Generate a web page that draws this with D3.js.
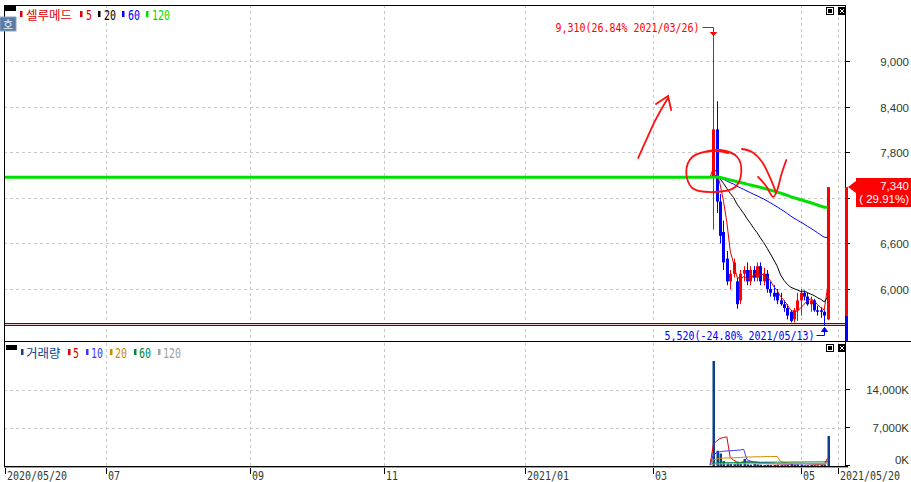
<!DOCTYPE html>
<html><head><meta charset="utf-8">
<script src="https://cdn.jsdelivr.net/npm/d3@7"></script>
<style>body{margin:0;background:#fff}svg{display:block}</style>
</head><body>
<svg id="c" width="911" height="482"></svg>
<script>
// ---------------- data ----------------
const stockName = "셀루메드";
const periodStart = "2020-05-20", periodEnd = "2021-05-20";
const marketHolidays = ["2020-08-17","2020-09-30","2020-10-01","2020-10-02","2020-10-09","2020-12-25","2020-12-31",
  "2021-01-01","2021-02-11","2021-02-12","2021-03-01","2021-05-05","2021-05-19"];
const haltedClose = 7470;           // price held flat while trading was suspended
const prevClose = 5650;
const candleDates = ["2021-03-26","2021-03-29","2021-03-30","2021-03-31","2021-04-01","2021-04-02","2021-04-05","2021-04-06",
  "2021-04-07","2021-04-08","2021-04-09","2021-04-12","2021-04-13","2021-04-14","2021-04-15","2021-04-16","2021-04-19",
  "2021-04-20","2021-04-21","2021-04-22","2021-04-23","2021-04-26","2021-04-27","2021-04-28","2021-04-29","2021-04-30",
  "2021-05-03","2021-05-04","2021-05-06","2021-05-07","2021-05-10","2021-05-11","2021-05-12","2021-05-13","2021-05-14"];
const opens  = [7500,8100,7150,6750,6400,6100,6200,6100,5850,6200,6250,6100,6250,6150,6300,6100,6200,6000,5950,5950,5850,5800,5750,5700,5600,5720,5850,5950,5900,5800,5850,5720,5720,5700,5600];
const highs  = [9310,8470,7250,6900,6500,6250,6400,6150,6250,6300,6350,6300,6300,6350,6350,6280,6250,6100,6050,6000,5950,5850,5800,5720,5750,5950,6000,5980,5950,5900,5870,5780,5760,5720,7340];
const lows   = [6780,7000,6600,6250,6050,6000,6150,5740,5800,6100,6050,6050,6100,6100,6050,6050,5950,5900,5850,5800,5780,5700,5600,5560,5560,5580,5650,5850,5780,5700,5700,5650,5620,5520,5590];
const closes = [8100,7150,6700,6350,6100,6200,6350,5800,6200,6250,6100,6250,6150,6300,6100,6200,6000,5950,5900,5850,5800,5750,5650,5580,5720,5850,5950,5900,5800,5850,5720,5700,5700,5650,7340];
const volumes = [19340,2800,2300,900,500,400,350,600,450,1300,300,250,400,300,250,200,250,200,180,200,180,150,200,350,250,300,250,150,150,180,150,150,180,300,5530]; // K shares
const priceTicks = [6000,6600,7200,7800,8400,9000];
const volumeTicks = [0,7000,14000];
const tickKeys   = ["2020-05-20","2020-07","2020-09","2020-11","2021-01","2021-03","2021-05","2021-05-20"];
const tickLabels = ["2020/05/20","07","09","11","2021/01","03","05","2021/05/20"];
const maPeriods = [5,20,60,120];
const maColors  = ["#e00000","#000000","#0000ff","#00e000"];
const volMaPeriods = [5,10,20,60,120];
const volMaColors  = ["#e00000","#3a3aff","#d08a00","#008a3a","#a0a0a0"];
const lowLinePrice = 5545;
const highNote = {date:"2021-03-26", price:9310, text:"9,310(26.84% 2021/03/26)"};
const lowNote  = {date:"2021-05-13", price:5520, text:"5,520(-24.80% 2021/05/13)"};
const lastNote = {price:7340, pct:"( 29.91%)", text:"7,340"};
// hand-drawn marker strokes: [trading days from 2021-03-26, price]
const scribbleArrow = [[-22.4,7724],[-20,7961],[-17.4,8211],[-15.3,8382],[-13.5,8513]];
const scribbleArrowHead = [[-17.1,8434],[-13.5,8539],[-12.6,8355]];
const scribbleCircle = [[-4,7789],[2,7829],[7.1,7737],[8.3,7539],[6.5,7342],[0.2,7276],[-6.3,7329],[-8.1,7539],[-6.3,7737],[-0.4,7816],[4.4,7789]];
const scribbleV1 = [[8.5,7842],[11.5,7803],[14.5,7671],[16.9,7461],[18.7,7263]];
const scribbleV2 = [[13.3,7474],[15.7,7355],[17.8,7211],[19.0,7303],[20.2,7500],[21.7,7697]];

// ---------------- calendar ----------------
const parse = d3.utcParse("%Y-%m-%d"), fmt = d3.utcFormat("%Y-%m-%d");
const hol = new Set(marketHolidays);
const days = d3.utcDay.range(parse(periodStart), d3.utcDay.offset(parse(periodEnd),1))
  .filter(d => d.getUTCDay()!==0 && d.getUTCDay()!==6 && !hol.has(fmt(d)));
const dayKeys = days.map(fmt);
const dayIndex = new Map(dayKeys.map((k,i)=>[k,i]));
const startIdx = dayIndex.get(candleDates[0]);
const lastIdx = dayIndex.get(candleDates[candleDates.length-1]);

// ---------------- layout ----------------
const svg = d3.select("#c");
const L = 4, R = 845, pTop = 5, pBot = 341, vBot = 466, AX = 909;
const x = d3.scaleLinear().domain([0, days.length]).range([5, 841]);
const y = d3.scaleLinear().domain([6000, 9000]).range([289, 61]);
const yv = d3.scaleLinear().domain([0, 14000]).range([466, 390]);
const MONO = "DejaVu Sans Mono", KR = "Noto Sans CJK KR", SANS = "Liberation Sans";
function mono(sel, str, size){ return sel.text(str).attr("font-family",MONO).attr("font-size",size||12)
  .attr("textLength", str.length*6).attr("lengthAdjust","spacingAndGlyphs"); }
function axisText(sel, str){ return sel.text(str).attr("font-family",SANS).attr("font-size",11.5).attr("text-anchor","end"); }

svg.append("rect").attr("width",911).attr("height",482).attr("fill","#fff");
const defs = svg.append("defs");
defs.append("clipPath").attr("id","cp").append("rect").attr("x",L).attr("y",pTop).attr("width",R-L).attr("height",pBot-pTop);
defs.append("clipPath").attr("id","cv").append("rect").attr("x",L).attr("y",342).attr("width",R-L).attr("height",vBot-342);

const tickIdx = tickKeys.map(k => k.length===10 ? dayIndex.get(k) : dayKeys.findIndex(d => d.startsWith(k)));

// grid
const grid = svg.append("g").attr("stroke","#c8c8c8").attr("stroke-dasharray","3,3").attr("stroke-width",1);
priceTicks.forEach(p => grid.append("line").attr("x1",L).attr("x2",R).attr("y1",Math.round(y(p))+0.5).attr("y2",Math.round(y(p))+0.5));
volumeTicks.filter(v=>v>0).forEach(v => grid.append("line").attr("x1",L).attr("x2",R).attr("y1",Math.round(yv(v))+0.5).attr("y2",Math.round(yv(v))+0.5));
tickIdx.slice(1).forEach(i => {
  const xx = Math.round(x(i))+0.5;
  grid.append("line").attr("x1",xx).attr("x2",xx).attr("y1",pTop).attr("y2",pBot);
  grid.append("line").attr("x1",xx).attr("x2",xx).attr("y1",343).attr("y2",vBot);
});

// ---------------- price panel ----------------
const gp = svg.append("g").attr("clip-path","url(#cp)");
const yl = Math.round(y(lowLinePrice));
gp.append("line").attr("x1",L).attr("x2",R).attr("y1",yl-0.5).attr("y2",yl-0.5).attr("stroke","#7a0000");
gp.append("line").attr("x1",L).attr("x2",R).attr("y1",yl+0.5).attr("y2",yl+0.5).attr("stroke","#e8c8c8");
gp.append("line").attr("x1",L).attr("x2",R).attr("y1",yl+1.5).attr("y2",yl+1.5).attr("stroke","#7a0000");

candleDates.forEach((d,i) => {
  const cx = Math.round(x(dayIndex.get(d)));
  const up = closes[i] >= opens[i];
  const col = up ? "#ff0000" : "#0000ff";
  gp.append("line").attr("x1",cx+0.5).attr("x2",cx+0.5).attr("y1",y(highs[i])).attr("y2",y(lows[i])).attr("stroke",col);
  const t = y(Math.max(opens[i],closes[i])), b = y(Math.min(opens[i],closes[i]));
  gp.append("rect").attr("x",cx-1).attr("width",3).attr("y",t).attr("height",Math.max(1,b-t)).attr("fill",col);
});

const closeAt = j => j < startIdx ? haltedClose : closes[j-startIdx];
const volAt = j => j < startIdx ? 0 : volumes[j-startIdx];
function ma(fn, n, k){ let s=0; for(let j=k-n+1;j<=k;j++) s+=fn(j); return s/n; }
const idxAll = d3.range(0, lastIdx+1);
maPeriods.forEach((n,mi) => {
  const pts = idxAll.map(k => [x(k), y(ma(closeAt,n,k))]);
  gp.append("path").attr("d", d3.line()(pts)).attr("fill","none").attr("stroke",maColors[mi])
    .attr("stroke-width", n===120 ? 3 : 1);
});

// hand-drawn markers
const sp = p => [x(startIdx + p[0]), y(p[1])];
const scrib = svg.append("g").attr("fill","none").attr("stroke","#ff1010").attr("stroke-width",1.8).attr("stroke-linecap","round");
[scribbleArrow, scribbleV1, scribbleV2].forEach(s => scrib.append("path").attr("d", d3.line().curve(d3.curveCatmullRom)(s.map(sp))));
scrib.append("path").attr("d", d3.line()(scribbleArrowHead.map(sp)));
scrib.append("path").attr("d", d3.line().curve(d3.curveCatmullRom)(scribbleCircle.map(sp)));

// high / low annotations
{
  const hx = Math.round(x(dayIndex.get(highNote.date)))+0.5, hy = y(highNote.price);
  const ly = Math.round(hy) - 9.5;
  mono(svg.append("text"), highNote.text).attr("x", hx-14).attr("y", ly+4.5).attr("text-anchor","end").attr("fill","#ff0000");
  svg.append("path").attr("d",`M${hx-11},${ly}H${hx}V${hy}`).attr("fill","none").attr("stroke","#ff0000");
  svg.append("path").attr("d",`M${hx-3},${ly+5}H${hx+3}L${hx},${ly+8}Z`).attr("fill","#ff0000").attr("stroke","#ff0000");
  const bx = Math.round(x(dayIndex.get(lowNote.date)))+0.5, by = y(lowNote.price);
  const lyy = Math.round(by) + 10.5;
  mono(svg.append("text"), lowNote.text).attr("x", bx-10).attr("y", lyy+4).attr("text-anchor","end").attr("fill","#0000ff");
  svg.append("path").attr("d",`M${bx-8},${lyy}H${bx}V${by+2}`).attr("fill","none").attr("stroke","#0000ff");
  svg.append("path").attr("d",`M${bx-3},${by+6}H${bx+3}L${bx},${by+2}Z`).attr("fill","#0000ff").attr("stroke","#0000ff");
}

// ---------------- volume panel ----------------
const gv = svg.append("g").attr("clip-path","url(#cv)");
candleDates.forEach((d,i) => {
  const cx = Math.round(x(dayIndex.get(d)));
  gv.append("rect").attr("x",cx-0.5).attr("width",2.5).attr("y",yv(volumes[i])).attr("height",Math.max(1,yv(0)-yv(volumes[i]))).attr("fill","#0d3f8f");
});
const idxVol = d3.range(startIdx-1, lastIdx+1);
volMaPeriods.forEach((n,mi) => {
  const pts = idxVol.map(k => [x(k), yv(ma(volAt,n,k))-1]);
  gv.append("path").attr("d", d3.line()(pts)).attr("fill","none").attr("stroke",volMaColors[mi]).attr("stroke-width",1);
});

// ---------------- frames & axes ----------------
const fr = svg.append("g").attr("stroke","#000").attr("shape-rendering","crispEdges");
fr.append("line").attr("x1",L).attr("x2",R).attr("y1",pTop+0.5).attr("y2",pTop+0.5);
fr.append("line").attr("x1",L+0.5).attr("x2",L+0.5).attr("y1",pTop).attr("y2",vBot+2);
fr.append("line").attr("x1",R+0.5).attr("x2",R+0.5).attr("y1",pTop).attr("y2",vBot+1);
fr.append("line").attr("x1",L).attr("x2",911).attr("y1",pBot+0.5).attr("y2",pBot+0.5);
fr.append("line").attr("x1",L).attr("x2",R+3).attr("y1",vBot+0.5).attr("y2",vBot+0.5);
svg.append("line").attr("x1",L).attr("x2",R+3).attr("y1",vBot+1.5).attr("y2",vBot+1.5).attr("stroke","#a0a0a0");

const boxTop = Math.round(y(lastNote.price)) - 9, boxBot = boxTop + 29;
priceTicks.forEach(p => {
  const yy = Math.round(y(p))+0.5;
  svg.append("line").attr("x1",R).attr("x2",R+5).attr("y1",yy).attr("y2",yy).attr("stroke","#000");
  if (yy > boxTop - 6 && yy < boxBot + 6) return;   // covered by the price box in the reference
  axisText(svg.append("text"), d3.format(",")(p)).attr("x",AX).attr("y",yy+4.5).attr("fill","#2e3a2e");
});
volumeTicks.forEach(v => {
  const yy = Math.round(yv(v))-0.5;
  svg.append("line").attr("x1",R).attr("x2",R+5).attr("y1",yy).attr("y2",yy).attr("stroke","#000");
  axisText(svg.append("text"), d3.format(",")(v)+"K").attr("x",AX).attr("y", v===0 ? yy-1.5 : yy+4.5).attr("fill","#2e3a2e");
});
tickIdx.forEach((i,k) => {
  const xx = Math.round(x(i))+0.5;
  svg.append("line").attr("x1",xx).attr("x2",xx).attr("y1",vBot+2).attr("y2",vBot+8).attr("stroke","#000");
  mono(svg.append("text"), tickLabels[k]).attr("x",xx+1.5).attr("y",480).attr("fill","#2e3a2e");
});

// today's range bar on the axis and price box
{
  const yc = y(lastNote.price), yp = y(prevClose);
  svg.append("rect").attr("x",R).attr("width",3).attr("y",yc).attr("height",yp-yc).attr("fill","#ff0000");
  svg.append("rect").attr("x",R).attr("width",3).attr("y",yp).attr("height",pBot-yp).attr("fill","#0000ff");
  svg.append("rect").attr("x",856).attr("y",boxTop).attr("width",55).attr("height",29).attr("fill","#ff0000");
  svg.append("path").attr("d",`M848,${Math.round(yc)}L856,${Math.round(yc)-6}V${Math.round(yc)+6}Z`).attr("fill","#ff0000");
  axisText(svg.append("text"), lastNote.text).attr("x",AX).attr("y",boxTop+12).attr("fill","#fff");
  axisText(svg.append("text"), lastNote.pct).attr("x",AX).attr("y",boxTop+25).attr("fill","#fff");
}

// ---------------- legends ----------------
svg.append("rect").attr("x",5).attr("y",6).attr("width",11).attr("height",5).attr("fill","#000");
function marker(xx, yy, c){ svg.append("rect").attr("x",xx).attr("y",yy).attr("width",2.5).attr("height",6).attr("fill",c); }
marker(20, 11, "#e00000");
svg.append("text").text(stockName).attr("x",26).attr("y",19.5).attr("font-family",KR).attr("font-size",12.5).attr("fill","#e00000");
const pLegX = [80, 98, 122, 146];
const pLegC = ["#e00000","#000000","#0000ff","#00dd00"];
maPeriods.forEach((n,k) => { marker(pLegX[k], 11, pLegC[k]); mono(svg.append("text"), String(n), 14).attr("x",pLegX[k]+6).attr("y",19.5).attr("fill",pLegC[k]); });

svg.append("rect").attr("x",6).attr("y",345).attr("width",11).attr("height",5).attr("fill","#000");
marker(21, 349, "#0d3f8f");
svg.append("text").text("거래량").attr("x",26).attr("y",358).attr("font-family",KR).attr("font-size",12.5).attr("fill","#0d3f8f");
const vLegX = [68, 86, 110, 134, 158];
volMaPeriods.forEach((n,k) => { marker(vLegX[k], 349, volMaColors[k]); mono(svg.append("text"), String(n), 14).attr("x",vLegX[k]+5).attr("y",358).attr("fill",volMaColors[k]); });

// "호" badge
svg.append("rect").attr("x",0).attr("y",17).attr("width",16).attr("height",14).attr("fill","#5a7ba3").attr("stroke","#8aa4c4");
svg.append("text").text("호").attr("x",8).attr("y",28.5).attr("text-anchor","middle").attr("font-family",KR).attr("font-size",11).attr("fill","#e8eef6");

// panel buttons
function buttons(yy){
  svg.append("rect").attr("x",826.5).attr("y",yy+0.5).attr("width",7).attr("height",7).attr("fill","#fff").attr("stroke","#000");
  svg.append("rect").attr("x",828).attr("y",yy+2).attr("width",4).attr("height",4).attr("fill","#000");
  svg.append("rect").attr("x",838.5).attr("y",yy+0.5).attr("width",7).attr("height",7).attr("fill","#000").attr("stroke","#000");
  svg.append("path").attr("d",`M${840},${yy+2}L${844},${yy+6}M${844},${yy+2}L${840},${yy+6}`).attr("stroke","#fff");
}
buttons(7); buttons(344);
</script>
</body></html>
